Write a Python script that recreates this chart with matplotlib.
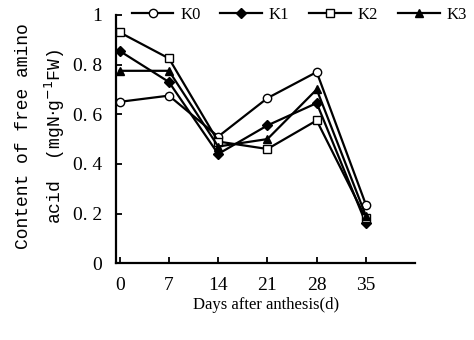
import matplotlib.pyplot as plt

days = [0, 7, 14, 21, 28, 35]
k0 = [0.65, 0.675, 0.51, 0.665, 0.77, 0.235]
k1 = [0.855, 0.73, 0.44, 0.555, 0.645, 0.16]
k2 = [0.93, 0.825, 0.49, 0.46, 0.575, 0.18]
k3 = [0.775, 0.775, 0.47, 0.50, 0.70, 0.19]
labels = ['K0', 'K1', 'K2', 'K3']

plt.rcParams['font.family'] = ['Liberation Serif', 'DejaVu Serif']

fig = plt.figure(figsize=(4.74, 3.4), dpi=100)
ax = fig.add_axes([0.245, 0.226, 0.631, 0.73])

ax.plot(days, k0, 'k-', marker='o', mfc='white', ms=6, lw=1.6, label=labels[0])
ax.plot(days, k1, 'k-', marker='D', mfc='black', ms=5, lw=1.6, label=labels[1])
ax.plot(days, k2, 'k-', marker='s', mfc='white', ms=6, lw=1.6, label=labels[2])
ax.plot(days, k3, 'k-', marker='^', mfc='black', ms=6, lw=1.6, label=labels[3])

ax.set_xlim(-0.5, 42)
ax.set_ylim(0, 1)
ax.set_xticks(days)
ax.set_yticks([0, 0.2, 0.4, 0.6, 0.8, 1])
ax.set_yticklabels(['0', '0. 2', '0. 4', '0. 6', '0. 8', '1'])
ax.tick_params(direction='in', labelsize=14, length=4, width=1.3)
ax.tick_params(axis='y', pad=10)
ax.tick_params(axis='x', pad=10)
ax.spines['top'].set_visible(False)
ax.spines['right'].set_visible(False)
ax.spines['left'].set_linewidth(1.6)
ax.spines['bottom'].set_linewidth(1.6)

ax.set_xlabel('Days after anthesis(d)', fontsize=12, labelpad=2)
fig.text(0.05, 0.6, 'Content of free amino', rotation=90, va='center', ha='center',
         fontsize=13, family='Liberation Mono')
fig.text(0.115, 0.6, r'acid  (mgN$\cdot$g$^{-1}$FW)', rotation=90, va='center', ha='center',
         fontsize=13, family='Liberation Mono')

ax.legend(ncol=4, loc='lower left', bbox_to_anchor=(0.03, 0.94), frameon=False,
          fontsize=12, handlelength=2.5, columnspacing=1.2, handletextpad=0.4,
          borderaxespad=0)

fig.savefig('out.png', dpi=100)
